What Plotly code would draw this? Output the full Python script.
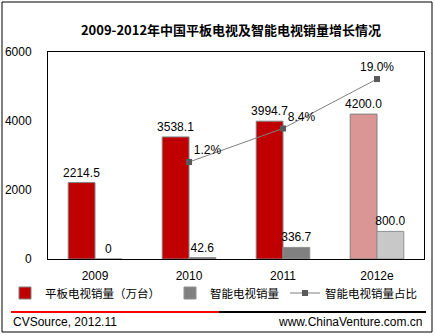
import plotly.graph_objects as go

# ---- data ----
years = ["2009", "2010", "2011", "2012e"]
flat_tv = [2214.5, 3538.1, 3994.7, 4200.0]
smart_tv = [0, 42.6, 336.7, 800.0]
smart_share = [None, 1.2, 8.4, 19.0]

title_text = "2009-2012年中国平板电视及智能电视销量增长情况"
name_flat = "平板电视销量（万台）"
name_smart = "智能电视销量"
name_share = "智能电视销量占比"
source_left = "CVSource, 2012.11"
source_right = "www.ChinaVenture.com.cn"

# ---- geometry helpers (pixel -> paper) ----
W, H = 435, 335
L, R, T, B = 48, 11, 52, 76
PW, PH = W - L - R, H - T - B


def px(x):
    return (x - L) / PW


def py(y):
    return (H - B - y) / PH


FONT = "Liberation Sans, Arial, sans-serif"
CJK = "Noto Sans CJK SC, sans-serif"

flat_colors = ["#C00000", "#C00000", "#C00000", "#D99694"]
smart_colors = ["#808080", "#808080", "#808080", "#C8C8C8"]
flat_text = [("0" if v == 0 else f"{v:.1f}") for v in flat_tv]
smart_text = [("0" if v == 0 else f"{v:.1f}") for v in smart_tv]
share_text = [("" if v is None else f"{v:.1f}%") for v in smart_share]

fig = go.Figure()
fig.add_trace(go.Bar(
    x=years, y=flat_tv, name=name_flat, legend="legend",
    marker=dict(color=flat_colors, line=dict(color="#808080", width=1)),
    text=flat_text, textposition="outside", cliponaxis=False, constraintext="none",
    textfont=dict(family=FONT, size=12, color="black"),
))
fig.add_trace(go.Bar(
    x=years, y=smart_tv, name=name_smart, legend="legend2",
    marker=dict(color=smart_colors, line=dict(color="#909090", width=1)),
    text=smart_text, textposition="outside", cliponaxis=False, constraintext="none",
    textfont=dict(family=FONT, size=12, color="black"),
))
fig.add_trace(go.Scatter(
    x=years, y=smart_share, name=name_share, yaxis="y2", legend="legend3",
    mode="lines+markers+text",
    line=dict(color="#7F7F7F", width=1),
    marker=dict(symbol="square", size=6, color="#595959"),
    text=share_text,
    textposition=["top right", "top right", "top right", "top center"],
    textfont=dict(family=FONT, size=12, color="black"),
    cliponaxis=False,
))

shapes = [
    # outer frame
    dict(type="rect", xref="paper", yref="paper",
         x0=px(2), x1=px(432), y0=py(332), y1=py(2),
         line=dict(color="black", width=1), fillcolor="rgba(0,0,0,0)", layer="below"),
    # footer rule: red then black
    dict(type="line", xref="paper", yref="paper",
         x0=px(11), x1=px(219), y0=py(312), y1=py(312),
         line=dict(color="#FF0000", width=2)),
    dict(type="line", xref="paper", yref="paper",
         x0=px(219), x1=px(426), y0=py(312), y1=py(312),
         line=dict(color="black", width=2)),
]

annotations = [
    dict(text=source_left, xref="paper", yref="paper", x=px(11), y=py(322),
         xanchor="left", yanchor="middle", showarrow=False,
         font=dict(family=FONT, size=12, color="black")),
    dict(text=source_right, xref="paper", yref="paper", x=px(424), y=py(322),
         xanchor="right", yanchor="middle", showarrow=False,
         font=dict(family=FONT, size=12, color="black")),
]


def leg(xpix):
    return dict(orientation="h", x=px(xpix), y=py(293), xanchor="left", yanchor="middle",
                font=dict(family=CJK, size=11.5, color="black"),
                bgcolor="rgba(0,0,0,0)", itemwidth=30)


fig.update_layout(
    width=W, height=H,
    margin=dict(l=L, r=R, t=T, b=B, pad=0, autoexpand=False),
    paper_bgcolor="white", plot_bgcolor="white",
    title=dict(text=f"<b>{title_text}</b>", x=231 / W, xref="container",
               xanchor="center", y=1 - 30 / H, yref="container", yanchor="middle",
               font=dict(family=CJK, size=13, color="black")),
    barmode="group", bargap=0.43, bargroupgap=0,
    showlegend=True,
    legend=leg(5), legend2=leg(170), legend3=leg(285),
    xaxis=dict(showgrid=False, showline=True, linecolor="black", linewidth=1,
               mirror=True, ticks="", tickfont=dict(family=FONT, size=12, color="black"),
               ticklabelstandoff=6, fixedrange=True, automargin=False),
    yaxis=dict(range=[0, 6000], tickvals=[0, 2000, 4000, 6000], showgrid=False,
               zeroline=False, showline=True, linecolor="black", linewidth=1, mirror=True,
               ticks="", tickfont=dict(family=FONT, size=12, color="black"),
               ticklabelstandoff=13, automargin=False),
    yaxis2=dict(overlaying="y", side="right", range=[-19.6, 24.8], visible=False,
                automargin=False),
    shapes=shapes, annotations=annotations,
)

fig.write_html("out.html")
